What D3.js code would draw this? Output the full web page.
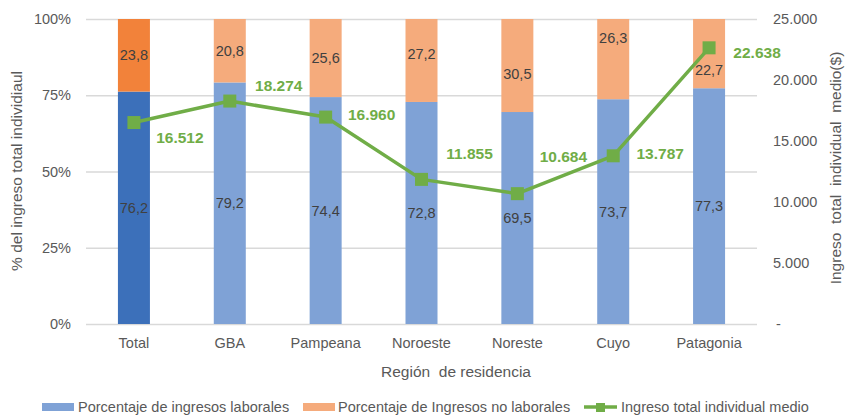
<!DOCTYPE html>
<meta charset="utf-8">
<style>
body { margin: 0; background: #fff; }
text { font-family: "Liberation Sans", Arial, sans-serif; white-space: pre; }
</style>
<body>
<svg width="855" height="415"></svg>
<script src="https://cdn.jsdelivr.net/npm/d3@7"></script>
<script>
var regiones = ["Total", "GBA", "Pampeana", "Noroeste", "Noreste", "Cuyo", "Patagonia"];
var laborales = [76.2, 79.2, 74.4, 72.8, 69.5, 73.7, 77.3];
var noLaborales = [23.8, 20.8, 25.6, 27.2, 30.5, 26.3, 22.7];
var ingresoMedio = [16512, 18274, 16960, 11855, 10684, 13787, 22638];
var pctTicks = [0, 25, 50, 75, 100];
var ingresoTicks = [0, 5000, 10000, 15000, 20000, 25000];

// label nudges (px), tuned by eye
var topLabelDy = [0, 0, 0, -6, 8, -21, 16];
var lineLabelPos = [[46, 15], [49, -15], [46, -2], [48, -25], [46, -37], [47, -2], [48, 5]];

var svg = d3.select("svg");
var plotL = 86, plotR = 757, plotT = 19, plotB = 324;

var x = d3.scaleBand().domain(regiones).range([plotL, plotR]);
var y = d3.scaleLinear().domain([0, 100]).range([plotB, plotT]);
var y2 = d3.scaleLinear().domain([0, 25000]).range([plotB, plotT]);
var barW = 32;
var fs = "14.5px";

var fmt = function(v) { return v.toFixed(1).replace(".", ","); };
var fmtMiles = function(v) { return v === 0 ? "-" : d3.format(",")(v).replace(/,/g, "."); };

// grid
svg.append("g").selectAll("line")
  .data(pctTicks)
  .enter().append("line")
  .attr("x1", plotL).attr("x2", plotR)
  .attr("y1", function(d) { return y(d) + 0.5; })
  .attr("y2", function(d) { return y(d) + 0.5; })
  .attr("stroke", "#d9d9d9")
  .attr("stroke-width", 1.5);

var cx = function(i) { return x(regiones[i]) + x.bandwidth() / 2; };

// bars
var g = svg.append("g");
regiones.forEach(function(r, i) {
  g.append("rect")
    .attr("x", cx(i) - barW / 2).attr("width", barW)
    .attr("y", y(laborales[i])).attr("height", plotB - y(laborales[i]))
    .attr("fill", i === 0 ? "#3c70ba" : "#7fa2d6");
  g.append("rect")
    .attr("x", cx(i) - barW / 2).attr("width", barW)
    .attr("y", y(100)).attr("height", y(laborales[i]) - y(100))
    .attr("fill", i === 0 ? "#f2823a" : "#f5ab7c");
  g.append("text")
    .attr("x", cx(i)).attr("y", (y(laborales[i]) + plotB) / 2 + 5)
    .attr("text-anchor", "middle").attr("font-size", fs).attr("fill", "#404040")
    .text(fmt(laborales[i]));
  g.append("text")
    .attr("x", cx(i)).attr("y", (y(100) + y(laborales[i])) / 2 + 5 + topLabelDy[i])
    .attr("text-anchor", "middle").attr("font-size", fs).attr("fill", "#404040")
    .text(fmt(noLaborales[i]));
});

// line
var green = "#70ad47";
var line = d3.line()
  .x(function(d, i) { return cx(i); })
  .y(function(d) { return y2(d); });
svg.append("path")
  .datum(ingresoMedio)
  .attr("d", line)
  .attr("fill", "none").attr("stroke", green).attr("stroke-width", 3.5)
  .attr("stroke-linejoin", "round");
svg.append("g").selectAll("rect")
  .data(ingresoMedio)
  .enter().append("rect")
  .attr("x", function(d, i) { return cx(i) - 6.5; })
  .attr("y", function(d) { return y2(d) - 6.5; })
  .attr("width", 13).attr("height", 13)
  .attr("fill", green);
svg.append("g").selectAll("text")
  .data(ingresoMedio)
  .enter().append("text")
  .attr("x", function(d, i) { return cx(i) + lineLabelPos[i][0]; })
  .attr("y", function(d, i) { return y2(d) + lineLabelPos[i][1] + 5; })
  .attr("text-anchor", "middle").attr("font-size", "15.5px").attr("font-weight", "bold")
  .attr("fill", green)
  .text(fmtMiles);

// axes
svg.append("g").selectAll("text")
  .data(pctTicks)
  .enter().append("text")
  .attr("x", 71).attr("y", function(d) { return y(d) + 5; })
  .attr("text-anchor", "end").attr("font-size", fs).attr("fill", "#595959")
  .text(function(d) { return d + "%"; });

svg.append("g").selectAll("text")
  .data(ingresoTicks)
  .enter().append("text")
  .attr("x", function(d) { return d === 0 ? 776 : 773; })
  .attr("y", function(d) { return y2(d) + 5; })
  .attr("font-size", fs).attr("fill", "#595959")
  .text(fmtMiles);

svg.append("g").selectAll("text")
  .data(regiones)
  .enter().append("text")
  .attr("x", function(d, i) { return cx(i); })
  .attr("y", 348)
  .attr("text-anchor", "middle").attr("font-size", fs).attr("fill", "#595959")
  .text(function(d) { return d; });

svg.append("text")
  .attr("x", 456).attr("y", 377)
  .attr("text-anchor", "middle").attr("font-size", "15.5px").attr("fill", "#595959")
  .text("Región  de residencia");

svg.append("text")
  .attr("transform", "translate(22,171) rotate(-90)")
  .attr("text-anchor", "middle").attr("font-size", "15.5px").attr("fill", "#595959")
  .text("% del ingreso total individiaul");

svg.append("text")
  .attr("transform", "translate(841,168) rotate(-90)")
  .attr("text-anchor", "middle").attr("font-size", "15.5px").attr("fill", "#595959")
  .text("Ingreso  total  individual  medio($)");

// legend
var lg = svg.append("g").attr("font-size", fs).attr("fill", "#595959");
lg.append("rect").attr("x", 42).attr("y", 403).attr("width", 32).attr("height", 8).attr("fill", "#7fa2d6");
lg.append("text").attr("x", 78).attr("y", 412).text("Porcentaje de ingresos laborales");
lg.append("rect").attr("x", 303).attr("y", 403).attr("width", 32).attr("height", 8).attr("fill", "#f5ab7c");
lg.append("text").attr("x", 338).attr("y", 412).text("Porcentaje de Ingresos no laborales");
lg.append("line").attr("x1", 584).attr("x2", 617).attr("y1", 407).attr("y2", 407)
  .attr("stroke", green).attr("stroke-width", 3.5);
lg.append("rect").attr("x", 596).attr("y", 403).attr("width", 9).attr("height", 9).attr("fill", green);
lg.append("text").attr("x", 621).attr("y", 412).text("Ingreso total individual medio");
</script>
</body>
